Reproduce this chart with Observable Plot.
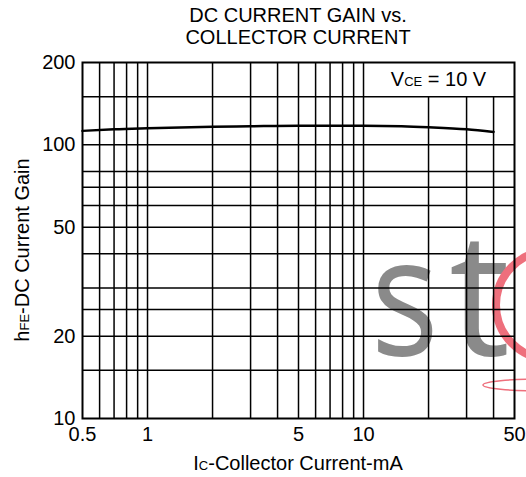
<!DOCTYPE html>
<html>
<head>
<meta charset="utf-8">
<script src="https://cdn.jsdelivr.net/npm/d3@7"></script>
<script src="https://cdn.jsdelivr.net/npm/@observablehq/plot@0.6"></script>
<style>
  body { margin: 0; background: #fff; font-family: "Liberation Sans", Arial, sans-serif; color: #000; }
  #wrap { position: relative; width: 526px; height: 477px; overflow: hidden; background: #fff; }
  #wm { position: absolute; left: 0; top: 0; }
  #title { position: absolute; left: 82px; width: 432px; top: 4px; text-align: center; font-size: 20px; line-height: 22px; }
  #chart { position: absolute; left: 0; top: 50px; }
  #vce { position: absolute; left: 363px; width: 151px; top: 62px; height: 35px; line-height: 35px; text-align: center; font-size: 20px; }
  #xlab { position: absolute; left: 82px; width: 432px; top: 452px; height: 22px; line-height: 22px; text-align: center; font-size: 20px; }
  #ylab { position: absolute; left: -128px; top: 239px; width: 300px; height: 22px; line-height: 22px; text-align: center; font-size: 20px; transform: rotate(-90deg); }
  .s { font-size: 13px; }
</style>
</head>
<body>
<div id="wrap">
  <svg id="wm" width="526" height="477">
    <text transform="translate(371,355) scale(0.86,1)" font-family="Open Sans" font-size="165" fill="#8a8a8a">s</text>
    <text transform="translate(449,355)" font-family="Open Sans" font-size="172" fill="#8a8a8a">t</text>
    <circle cx="550" cy="305" r="54" fill="none" stroke="#ee6f7c" stroke-width="8"></circle>
    <ellipse cx="543" cy="385" rx="60" ry="6" fill="none" stroke="#ee6f7c" stroke-width="1.5"></ellipse>
  </svg>
  <div id="title">DC CURRENT GAIN vs.<br>COLLECTOR CURRENT</div>
  <div id="chart"></div>
  <div id="vce">V<span class="s">CE</span> = 10 V</div>
  <div id="xlab">I<span class="s">C</span>-Collector Current-mA</div>
  <div id="ylab">h<span class="s">FE</span>-DC Current Gain</div>
</div>
<script>
// Data (collector current in mA, DC current gain hFE)
const currentMA = [0.5, 0.7, 1, 2, 3, 5, 10, 15, 20, 30, 40];
const gain = [112.5, 114, 115, 116.5, 117, 117.5, 117.5, 117, 116, 114, 111.5];

// Axis ticks and grid
const xTicks = [0.5, 1, 5, 10, 50];
const yTicks = [10, 20, 50, 100, 200];
const xGridFull = [0.6, 0.7, 0.8, 0.9, 1, 2, 3, 4, 5, 6, 7, 8, 9, 10];
const xGridShort = [20, 30, 40];
const xGridShortTop = 150;
const yGrid = [15, 20, 25, 30, 40, 50, 60, 70, 80, 100, 150];

const rows = currentMA.map((x, i) => ({x, y: gain[i]}));

const chart = Plot.plot({
  width: 526,
  height: 427,
  marginTop: 12,
  marginBottom: 59,
  marginLeft: 82,
  marginRight: 12,
  style: {background: "none", fontFamily: "Liberation Sans, Arial, sans-serif", fontSize: "20px", color: "#000", overflow: "visible"},
  x: {type: "log", domain: [0.5, 50], ticks: xTicks, tickFormat: d => String(d), tickSize: 0, tickPadding: 8, label: null},
  y: {type: "log", domain: [10, 200], ticks: yTicks, tickFormat: d => String(d), tickSize: 0, tickPadding: 7, label: null},
  marks: [
    Plot.ruleY(yGrid, {stroke: "#000", strokeWidth: 1.5}),
    Plot.ruleX(xGridFull, {stroke: "#000", strokeWidth: 1.5}),
    Plot.ruleX(xGridShort, {x: d => d, y1: () => 10, y2: () => xGridShortTop, stroke: "#000", strokeWidth: 1.5}),
    Plot.line(rows, {x: "x", y: "y", stroke: "#000", strokeWidth: 2.5, curve: "monotone-x"}),
    Plot.frame({stroke: "#000", strokeWidth: 2})
  ]
});
document.getElementById("chart").appendChild(chart);
</script>
</body>
</html>
